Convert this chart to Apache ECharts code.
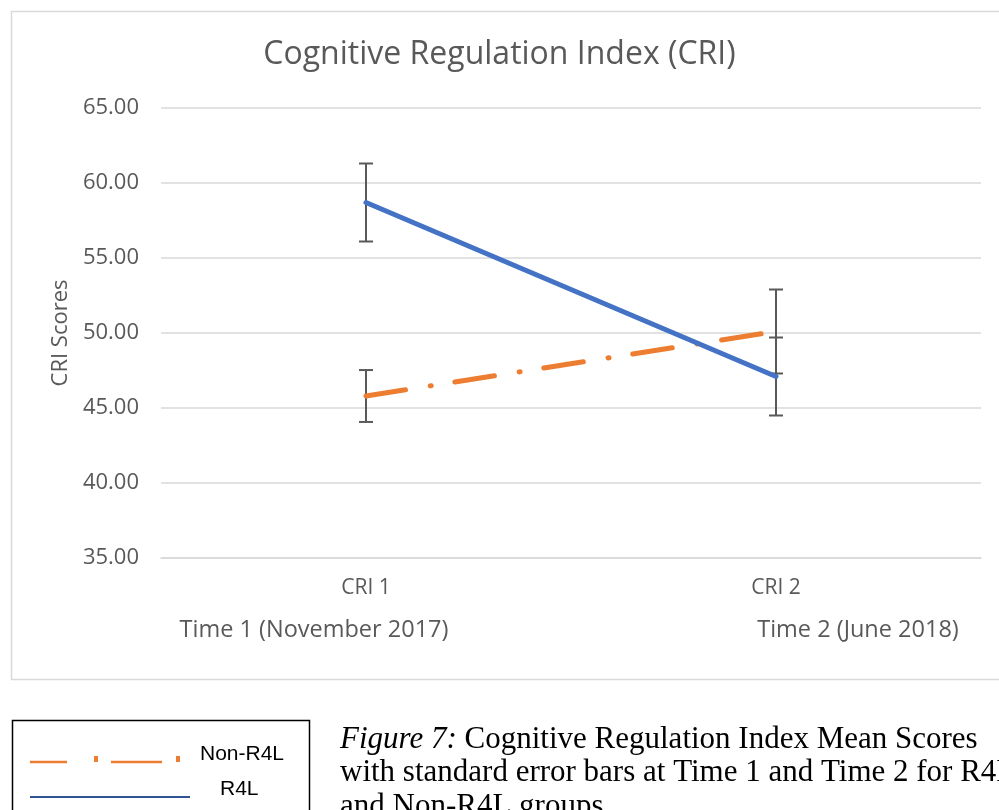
<!DOCTYPE html>
<html>
<head>
<meta charset="utf-8">
<script src="https://cdn.jsdelivr.net/npm/echarts@6/dist/echarts.min.js"></script>
<style>
    html, body { margin: 0; padding: 0; background: #fff; }
    #main { width: 999px; height: 810px; }
</style>
</head>
<body>
<div id="main"></div>
<script>
    // categories and values
    var categories = ['CRI 1', 'CRI 2'];
    var timeLabels = ['Time 1 (November 2017)', 'Time 2 (June 2018)'];
    var r4lMeans = [58.7, 47.1];
    var r4lErr = [2.6, 2.6];
    var nonR4lMeans = [45.8, 50.1];
    var nonR4lErr = [1.73, 2.8];
    var yTicks = [35, 40, 45, 50, 55, 60, 65];

    var blue = '#4472C4';
    var orange = '#ED7D31';
    var grey = '#595959';

    function errData(means, errs) {
        return means.map(function (m, i) { return [i, m - errs[i], m + errs[i]]; });
    }

    function renderErr(params, api) {
        var lo = api.coord([api.value(0), api.value(1)]);
        var hi = api.coord([api.value(0), api.value(2)]);
        var w = 7;
        var st = { stroke: grey, lineWidth: 2 };
        return {
            type: 'group',
            children: [
                { type: 'line', shape: { x1: lo[0], y1: lo[1], x2: hi[0], y2: hi[1] }, style: st },
                { type: 'line', shape: { x1: lo[0] - w, y1: lo[1], x2: lo[0] + w, y2: lo[1] }, style: st },
                { type: 'line', shape: { x1: hi[0] - w, y1: hi[1], x2: hi[0] + w, y2: hi[1] }, style: st }
            ]
        };
    }

    var chart = echarts.init(document.getElementById('main'));
    chart.setOption({
        animation: false,
        textStyle: { fontFamily: 'Open Sans' },
        title: {
            text: 'Cognitive Regulation Index (CRI)',
            left: 'center',
            top: 34,
            textStyle: { fontSize: 32, fontWeight: 'normal', color: grey, fontFamily: 'Open Sans' }
        },
        grid: { left: 161, right: 18, top: 108, bottom: 252 },
        xAxis: {
            type: 'category',
            data: categories,
            axisLine: { lineStyle: { color: '#D9D9D9', width: 1.5 } },
            axisTick: { show: false },
            axisLabel: { color: grey, fontSize: 21, margin: 20 }
        },
        yAxis: {
            type: 'value',
            min: yTicks[0],
            max: yTicks[yTicks.length - 1],
            interval: 5,
            name: 'CRI Scores',
            nameLocation: 'middle',
            nameRotate: 90,
            nameGap: 87,
            nameTextStyle: { color: grey, fontSize: 22 },
            axisLine: { show: false },
            axisTick: { show: false },
            axisLabel: {
                color: grey, fontSize: 22, margin: 22,
                formatter: function (v) { return v.toFixed(2); }
            },
            splitLine: { lineStyle: { color: '#D9D9D9', width: 1.5 } }
        },
        series: [
            {
                name: 'R4L err', type: 'custom', z: 1,
                renderItem: renderErr, data: errData(r4lMeans, r4lErr)
            },
            {
                name: 'Non-R4L err', type: 'custom', z: 1,
                renderItem: renderErr, data: errData(nonR4lMeans, nonR4lErr)
            },
            {
                name: 'Non-R4L', type: 'line', z: 3,
                data: nonR4lMeans, symbol: 'none',
                lineStyle: { color: orange, width: 5, type: [40, 25, 1, 24], cap: 'round' }
            },
            {
                name: 'R4L', type: 'line', z: 4,
                data: r4lMeans, symbol: 'none',
                lineStyle: { color: blue, width: 5, cap: 'round' }
            }
        ],
        graphic: [
            // chart frame
            { type: 'rect', left: 9, top: 9, shape: { width: 1005, height: 668 },
              style: { fill: 'none', stroke: '#D9D9D9', lineWidth: 1.5 }, silent: true },
            { type: 'text', x: 314, y: 630,
              style: { text: timeLabels[0], fill: grey, font: '23.5px "Open Sans"', textAlign: 'center', textVerticalAlign: 'middle' } },
            { type: 'text', x: 858, y: 630,
              style: { text: timeLabels[1], fill: grey, font: '23.5px "Open Sans"', textAlign: 'center', textVerticalAlign: 'middle' } },
            // legend box below the chart
            { type: 'rect', left: 10, top: 718, shape: { width: 297, height: 100 },
              style: { fill: 'none', stroke: '#000', lineWidth: 1.5 }, silent: true },
            { type: 'line', shape: { x1: 30, y1: 762, x2: 67, y2: 762 }, style: { stroke: orange, lineWidth: 2.5 } },
            { type: 'rect', shape: { x: 94, y: 756, width: 4, height: 6 }, style: { fill: orange } },
            { type: 'line', shape: { x1: 111, y1: 762, x2: 162, y2: 762 }, style: { stroke: orange, lineWidth: 2.5 } },
            { type: 'rect', shape: { x: 176, y: 756, width: 4, height: 6 }, style: { fill: orange } },
            { type: 'text', x: 200, y: 754,
              style: { text: 'Non-R4L', fill: '#000', font: '21px "Liberation Sans"', textVerticalAlign: 'middle' } },
            { type: 'line', shape: { x1: 30, y1: 797, x2: 190, y2: 797 }, style: { stroke: '#2F5597', lineWidth: 2 } },
            { type: 'text', x: 220, y: 789,
              style: { text: 'R4L', fill: '#000', font: '21px "Liberation Sans"', textVerticalAlign: 'middle' } },
            // caption
            { type: 'text', x: 340, y: 740,
              style: {
                  text: '{i|Figure 7:} Cognitive Regulation Index Mean Scores',
                  fill: '#000', textVerticalAlign: 'middle',
                  font: '31px "Liberation Serif"',
                  rich: { i: { fontStyle: 'italic', fontFamily: 'Liberation Serif', fontSize: 31 } }
              } },
            { type: 'text', x: 340, y: 773,
              style: { text: 'with standard error bars at Time 1 and Time 2 for R4L', fill: '#000',
                       font: '31px "Liberation Serif"', textVerticalAlign: 'middle' } },
            { type: 'text', x: 340, y: 807,
              style: { text: 'and Non-R4L groups.', fill: '#000',
                       font: '31px "Liberation Serif"', textVerticalAlign: 'middle' } }
        ]
    });
</script>
</body>
</html>
